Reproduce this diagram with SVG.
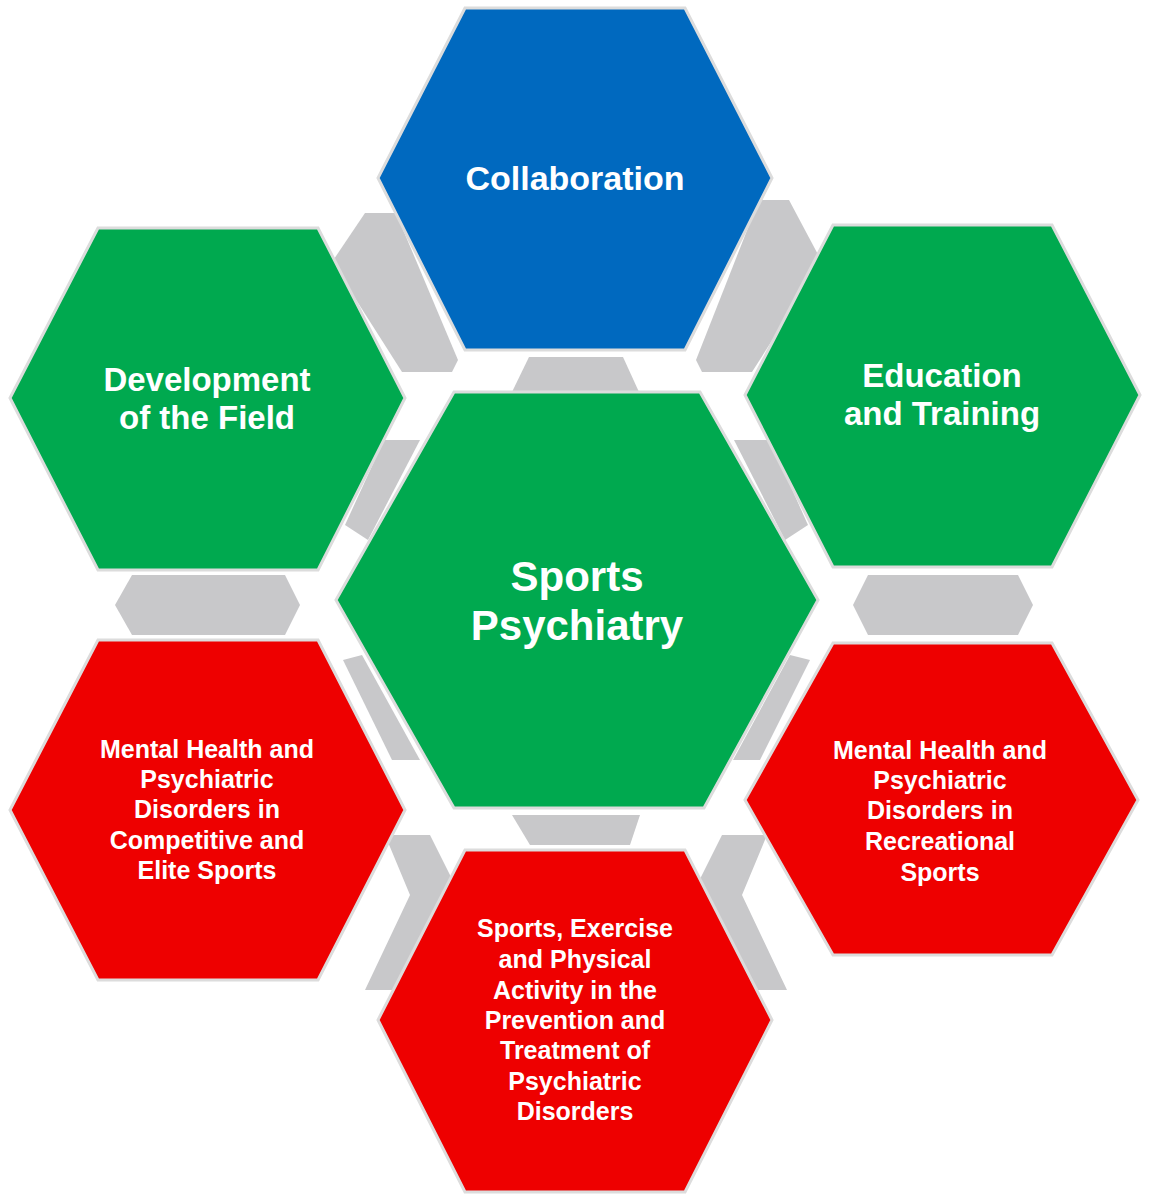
<svg xmlns="http://www.w3.org/2000/svg" width="1158" height="1200" viewBox="0 0 1158 1200">
<style>
.g{fill:#c8c8ca}
.h{stroke:#dcdcdc;stroke-width:3}
.gr{fill:#00a94f}.bl{fill:#0069bf}.rd{fill:#ee0000}
text{font-family:"Liberation Sans",Arial,sans-serif;font-weight:bold;fill:#fff;text-anchor:middle}
.s{font-size:25px}
</style>
<rect width="1158" height="1200" fill="#fff"/>
<g id="connectors">
<polygon class="g" points="529,357 623,357 639,392 512,392"/>
<polygon class="g" points="512,815 640,815 630,845 530,845"/>
<polygon class="g" points="365,213 396,213 458,360 452,372 402,372 332,262"/>
<polygon class="g" points="789,200 759,200 696,360 702,372 752,372 822,262"/>
<polygon class="g" points="384,440 420,440 368,540 345,525"/>
<polygon class="g" points="343,660 362,655 420,760 392,760"/>
<polygon class="g" points="734,440 770,440 808,525 785,540"/>
<polygon class="g" points="810,660 790,655 733,760 760,760"/>
<polygon class="g" points="132,575 285,575 300,605 285,635 132,635 115,605"/>
<polygon class="g" points="868,575 1018,575 1033,605 1018,635 868,635 853,605"/>
<polygon class="g" points="385,835 430,835 460,895 415,990 365,990 410,895"/>
<polygon class="g" points="767,835 722,835 692,895 737,990 787,990 742,895"/>
</g>
<g id="collaboration"><polygon class="h bl" points="465,8 685,8 772,178 685,350 465,350 378,178"/><text x="575" y="190" font-size="34">Collaboration</text></g>
<g id="development"><polygon class="h gr" points="98,228 318,228 405,398 318,570 98,570 10,398"/><text x="207" y="391" font-size="33">Development</text><text x="207" y="429" font-size="33">of the Field</text></g>
<g id="education"><polygon class="h gr" points="833,225 1052,225 1140,395 1052,567 833,567 745,395"/><text x="942" y="387" font-size="33">Education</text><text x="942" y="425" font-size="33">and Training</text></g>
<g id="center"><polygon class="h gr" points="454,392 700,392 818,600 704,808 454,808 336,600"/><text x="577" y="591" font-size="42">Sports</text><text x="577" y="640" font-size="42">Psychiatry</text></g>
<g id="mental-competitive"><polygon class="h rd" points="98,640 318,640 405,810 318,980 98,980 10,810"/>
<text class="s" x="207" y="758">Mental Health and</text><text class="s" x="207" y="788">Psychiatric</text><text class="s" x="207" y="818">Disorders in</text><text class="s" x="207" y="849">Competitive and</text><text class="s" x="207" y="879">Elite Sports</text></g>
<g id="mental-recreational"><polygon class="h rd" points="833,643 1052,643 1138,800 1052,955 833,955 745,800"/>
<text class="s" x="940" y="759">Mental Health and</text><text class="s" x="940" y="789">Psychiatric</text><text class="s" x="940" y="819">Disorders in</text><text class="s" x="940" y="850">Recreational</text><text class="s" x="940" y="881">Sports</text></g>
<g id="sports-exercise"><polygon class="h rd" points="465,850 685,850 772,1020 685,1192 465,1192 378,1020"/>
<text class="s" x="575" y="937">Sports, Exercise</text><text class="s" x="575" y="968">and Physical</text><text class="s" x="575" y="999">Activity in the</text><text class="s" x="575" y="1029">Prevention and</text><text class="s" x="575" y="1059">Treatment of</text><text class="s" x="575" y="1090">Psychiatric</text><text class="s" x="575" y="1120">Disorders</text></g>
</svg>
